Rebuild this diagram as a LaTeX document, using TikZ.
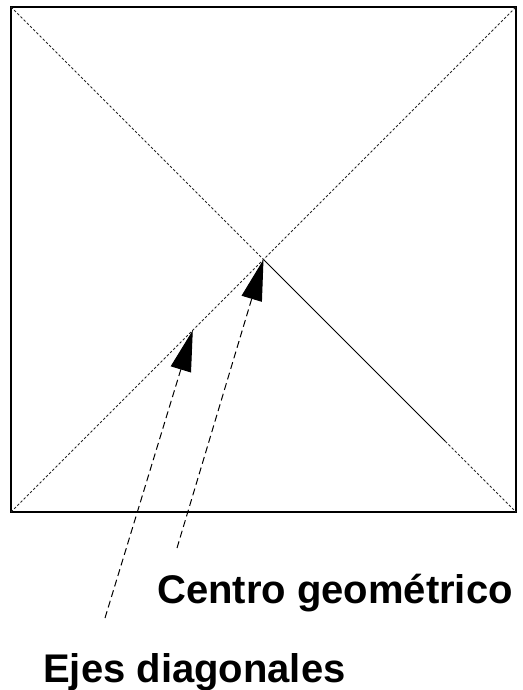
\documentclass[tikz,border=0pt]{standalone}
\usepackage{fontspec}
\setmainfont{Liberation Sans}
\usetikzlibrary{calc,arrows.meta,positioning}
\begin{document}
\begin{tikzpicture}[x=1pt,y=-1pt,
  diag/.style={line width=0.9pt, dash pattern=on 2.5pt off 2pt, black!85},
  arr/.style={line width=1pt, dash pattern=on 7pt off 4pt, -{Triangle[length=41pt,width=21pt]}},
  lbl/.style={font=\fontsize{40}{48}\selectfont\bfseries, anchor=base west, inner sep=0pt}
]
\useasboundingbox (0,0) rectangle (522,690);
% ---- square and diagonals
\coordinate (tl) at (11,7);
\coordinate (tr) at (516,7);
\coordinate (bl) at (11,512);
\coordinate (br) at (516,512);
\coordinate (c) at ($(tl)!0.5!(br)$);
\draw[line width=1.2pt] (tl) rectangle (br);
\draw[diag] (tl) -- (c);
\draw[line width=0.8pt] (c) -- ($(c)!0.72!(br)$);
\draw[diag] ($(c)!0.72!(br)$) -- (br);
\draw[diag] (bl) -- (tr);
% ---- labels and arrows
\node[lbl] (centro) at (157,603) {Centro geométrico};
\node[lbl] (ejes) at (43,682) {Ejes diagonales};
\coordinate (ctail) at (177,548);
\coordinate (etail) at (105,618);
\coordinate (etip) at ($(bl)!0.72!(c)$);
\draw[arr] (ctail) -- (c);
\draw[arr] (etail) -- (etip);
\end{tikzpicture}
\end{document}
